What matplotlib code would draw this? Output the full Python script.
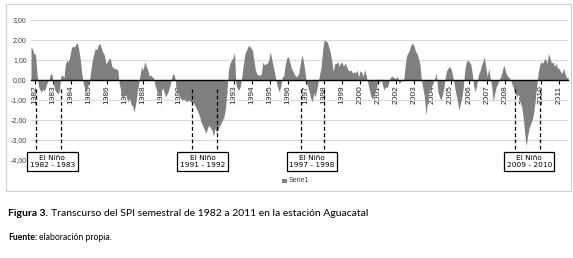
import numpy as np
import matplotlib
matplotlib.use("Agg")
import matplotlib.pyplot as plt
from matplotlib.patches import Rectangle

# ---- data: monthly 6-month SPI, 1982-2011 ----
spi_1982 = [1.65, 1.55, 1.3, 1.3, 0.3, -0.3, -0.5, -0.6, -0.45, -0.55, -0.3, -0.1]
spi_1983 = [0.0, 0.3, 0.3, -0.2, -0.5, -0.6, -0.7, -0.5, 0.2, 0.25, 0.1, 0.8]
spi_1984 = [1.0, 0.9, 1.2, 1.6, 1.7, 1.65, 1.8, 1.85, 1.5, 1.0, 0.3, -0.2]
spi_1985 = [-0.4, -0.6, -0.3, -0.1, 0.5, 1.0, 1.3, 1.6, 1.5, 1.75, 1.83, 1.6]
spi_1986 = [1.4, 1.25, 0.83, 0.9, 1.05, 1.1, 0.7, 0.6, 0.57, 0.55, 0.5, -0.2]
spi_1987 = [-0.5, -0.92, -0.8, -0.67, -0.9, -1.08, -0.9, -1.25, -1.3, -1.6, -1.17, -0.6]
spi_1988 = [-0.2, 0.3, 0.67, 0.5, 0.92, 0.7, 0.5, 0.2, 0.25, 0.15, 0.1, -0.3]
spi_1989 = [-0.5, -0.7, -0.83, -0.6, -0.4, -0.6, -0.83, -0.7, -0.5, -0.25, 0.1, 0.33]
spi_1990 = [0.2, -0.4, -0.6, -0.83, -0.9, -1.0, -0.95, -1.0, -1.1, -1.0, -1.05, -1.1]
spi_1991 = [-1.1, -1.2, -1.33, -1.5, -1.67, -1.9, -2.17, -2.3, -2.5, -2.67, -2.4, -2.25]
spi_1992 = [-2.4, -2.5, -2.83, -2.42, -2.6, -2.5, -2.3, -2.17, -2.0, -1.83, -1.4, -0.6]
spi_1993 = [0.5, 0.83, 1.0, 1.1, 1.4, -0.2, -0.45, -0.5, -0.3, 0.2, 0.8, 1.3]
spi_1994 = [1.5, 1.67, 1.72, 1.6, 1.5, 1.0, 0.5, 0.3, 0.25, 0.25, 0.3, 0.9]
spi_1995 = [0.75, 0.8, 0.85, 1.0, 1.42, 1.0, 0.67, 0.3, -0.1, -0.4, -0.6, -0.3]
spi_1996 = [0.17, 0.2, 0.8, 1.1, 1.17, 0.9, 0.6, 0.45, 0.3, 0.17, 0.2, 0.35]
spi_1997 = [0.8, 1.25, 1.0, 0.5, -0.1, -0.33, -0.6, -0.9, -1.08, -0.67, -0.83, -0.5]
spi_1998 = [-0.1, 0.3, 0.67, 1.5, 2.0, 1.95, 1.9, 1.67, 1.4, 1.0, 0.42, 0.8]
spi_1999 = [0.83, 0.92, 0.67, 0.9, 0.83, 0.7, 0.85, 0.67, 0.5, 0.45, 0.5, 0.33]
spi_2000 = [0.42, 0.35, 0.5, 0.15, 0.45, 0.42, 0.17, 0.53, 0.25, -0.08, -0.42, -0.75]
spi_2001 = [-0.92, -0.85, -0.6, -0.4, 0.08, -0.17, 0.1, -0.25, -0.5, -0.33, -0.4, -0.17]
spi_2002 = [0.08, 0.2, 0.15, 0.1, 0.08, 0.2, -0.17, -0.1, 0.08, -0.1, 0.6, 1.2]
spi_2003 = [1.35, 1.5, 1.75, 1.85, 1.7, 1.45, 1.33, 1.1, 0.8, 0.0, -0.42, -0.83]
spi_2004 = [-1.75, -1.1, -0.58, -0.42, -0.3, -0.1, 0.1, 0.33, -0.58, -0.83, -1.0, -0.75]
spi_2005 = [-0.4, 0.17, 0.5, 0.6, 0.67, 0.5, 0.17, -0.25, -0.67, -1.0, -1.5, -1.2]
spi_2006 = [-0.9, -0.33, 0.5, 0.9, 1.0, 0.9, 0.8, 0.33, -0.33, -0.58, -0.25, 0.25]
spi_2007 = [0.42, 0.7, 0.9, 1.17, 0.67, 0.17, 0.58, 0.1, -0.33, -1.08, -0.67, -0.33]
spi_2008 = [-0.2, 0.0, 0.17, 0.42, 0.75, 0.5, 0.25, 0.17, 0.08, -0.1, -0.3, -0.5]
spi_2009 = [-0.7, -0.83, -0.67, -1.08, -1.33, -1.83, -2.6, -3.3, -2.8, -2.4, -2.2, -2.0]
spi_2010 = [-1.67, -1.08, -0.33, 0.33, 0.75, 0.92, 0.83, 1.0, 1.08, 0.83, 1.33, 1.08]
spi_2011 = [0.83, 0.92, 0.67, 0.83, 0.6, 0.58, 0.42, 0.33, 0.58, 0.33, 0.1, 0.17]

years = list(range(1982, 2012))
year_labels = [str(y) for y in years]
y_ticks = [3, 2, 1, 0, -1, -2, -3, -4]

nino_labels = ["El Niño\n1982 - 1983", "El Niño\n1991 - 1992",
               "El Niño\n1997 - 1998", "El Niño\n2009 - 2010"]
nino_starts = [0.07, 8.71, 14.74, 26.59]   # in years since 1982
nino_ends = [1.45, 10.06, 15.99, 27.93]
nino_box_x = [0.98, 9.28, 15.33, 27.35]

spi = np.array(spi_1982 + spi_1983 + spi_1984 + spi_1985 + spi_1986 + spi_1987 +
               spi_1988 + spi_1989 + spi_1990 + spi_1991 + spi_1992 + spi_1993 +
               spi_1994 + spi_1995 + spi_1996 + spi_1997 + spi_1998 + spi_1999 +
               spi_2000 + spi_2001 + spi_2002 + spi_2003 + spi_2004 + spi_2005 +
               spi_2006 + spi_2007 + spi_2008 + spi_2009 + spi_2010 + spi_2011)

# x in "years since 1982" units (category axis of the original)
x = np.arange(len(spi)) / 12.09 - 0.2

W, H = 573, 258
fig = plt.figure(figsize=(W / 100, H / 100), dpi=100)
fig.patch.set_facecolor("white")

# outer chart border
fig.patches.append(Rectangle((6 / W, 1 - 191 / H), (571 - 6) / W, (191 - 4) / H,
                             transform=fig.transFigure, fill=False,
                             edgecolor="#d0d0d0", linewidth=0.8))

ax = fig.add_axes([31 / W, 1 - 160 / H, (568 - 31) / W, 140 / H])
ax.set_xlim(x[0], x[-1])
ax.set_ylim(-4, 3)

ax.fill_between(x, 0, spi, color="#7f7f7f", linewidth=0, zorder=2)

for s in ["top", "right", "left"]:
    ax.spines[s].set_visible(False)
ax.spines["bottom"].set_position(("data", 0))
ax.spines["bottom"].set_color("black")
ax.spines["bottom"].set_linewidth(1.0)
ax.spines["bottom"].set_zorder(3)

ax.set_yticks(y_ticks)
ax.set_yticklabels([f"{v:.2f}".replace(".", ",") for v in y_ticks],
                   fontsize=5, color="#404040", family="Liberation Sans")
ax.tick_params(axis="y", length=0, pad=3)
ax.yaxis.grid(True, color="#d9d9d9", linewidth=0.8, zorder=0)
ax.set_axisbelow(True)

ax.set_xticks(np.arange(len(years)))
ax.set_xticklabels(year_labels, rotation=90, fontsize=6,
                   color="#202020", family="Liberation Sans")
ax.tick_params(axis="x", direction="out", length=3, width=0.8, pad=1,
               color="black")

# El Niño markers
for s0, s1, bx, lab in zip(nino_starts, nino_ends, nino_box_x, nino_labels):
    for xv in (s0, s1):
        ax.plot([xv, xv], [-0.45, -3.6], color="black", linestyle=(0, (3, 2)),
                linewidth=0.9, zorder=4)
    ax.text(bx, -4.08, lab, ha="center", va="center", fontsize=5.3,
            family="DejaVu Sans", color="black", linespacing=1.35, zorder=5,
            bbox=dict(boxstyle="square,pad=0.35", facecolor="white",
                      edgecolor="black", linewidth=0.9))

# legend
fig.patches.append(Rectangle((282 / W, 1 - 183 / H), 4.5 / W, 4.5 / H,
                             transform=fig.transFigure, facecolor="#7f7f7f",
                             edgecolor="none"))
fig.text(289 / W, 1 - 180.5 / H, "Serie1", fontsize=5, color="#404040",
         va="center", ha="left", family="Liberation Sans")

# caption
renderer = fig.canvas.get_renderer()
t1 = fig.text(8 / W, 1 - 213 / H, "Figura 3.", fontsize=7.5, fontweight="bold",
              va="center", ha="left", family="Lato", color="black")
bb = t1.get_window_extent(renderer)
fig.text(bb.x1 / W + 3 / W, 1 - 213 / H,
         "Transcurso del SPI semestral de 1982 a 2011 en la estación Aguacatal",
         fontsize=7.5, va="center", ha="left", family="Lato", color="black")
t2 = fig.text(8 / W, 1 - 238 / H, "Fuente:", fontsize=6.2, fontweight="bold",
              va="center", ha="left", family="Lato", color="black")
bb2 = t2.get_window_extent(renderer)
fig.text(bb2.x1 / W + 2 / W, 1 - 238 / H, "elaboración propia.", fontsize=6.2,
         va="center", ha="left", family="Lato", color="black")

fig.savefig("out.png", dpi=100, facecolor="white")
